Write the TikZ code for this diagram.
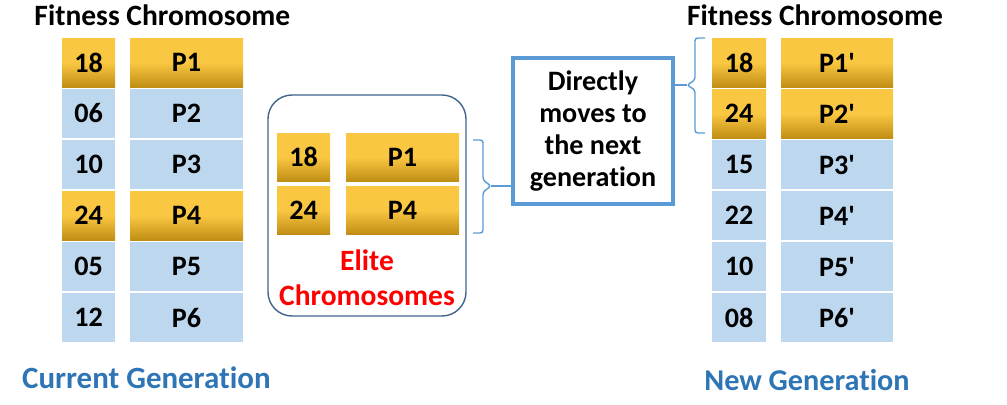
\documentclass[tikz,border=0pt]{standalone}
\usepackage{fontspec}
\setmainfont{Carlito}[Ligatures={TeX,NoCommon}]
\usepackage{tikz}
\usetikzlibrary{backgrounds}
\pgfdeclarelayer{edgelayer}
\pgfdeclarelayer{nodelayer}
\pgfsetlayers{edgelayer,nodelayer,main}
\definecolor{cellblue}{RGB}{189,215,238}
\definecolor{goldtop}{RGB}{250,199,66}
\definecolor{goldbot}{RGB}{192,142,20}
\definecolor{framegray}{RGB}{65,100,140}
\definecolor{frameblue}{RGB}{91,155,213}
\definecolor{genblue}{RGB}{46,117,182}
\tikzstyle{fitcell}=[rectangle, inner sep=0pt, minimum width=1.325cm, minimum height=1.225cm, font=\fontsize{20}{24}\selectfont\bfseries]
\tikzstyle{chromcell}=[fitcell, minimum width=2.825cm]
\tikzstyle{bluecell}=[fill=cellblue]
\tikzstyle{goldcell}=[top color=goldtop, bottom color=goldbot, middle color=goldtop]
\tikzstyle{heading}=[anchor=base, inner sep=0pt, font=\fontsize{21}{25}\selectfont\bfseries]
\tikzstyle{brace}=[draw=frameblue, line width=1pt, rounded corners=2pt]
\newcommand{\pr}{\textquotesingle}

\begin{document}
\begin{tikzpicture}
            \useasboundingbox (0, 0) rectangle (25.175, -10.1);
            \begin{pgfonlayer}{nodelayer}
                % current generation
                \node [style=heading] (head1) at (4.06, -0.625) {Fitness Chromosome};
                \node [style=fitcell, style=goldcell] (f1) at (2.2125, -1.5625) {18};
                \node [style=chromcell, style=goldcell] (c1) at (4.6625, -1.5625) {P1};
                \node [style=fitcell, style=bluecell] (f2) at (2.2125, -2.8375) {06};
                \node [style=chromcell, style=bluecell] (c2) at (4.6625, -2.8375) {P2};
                \node [style=fitcell, style=bluecell] (f3) at (2.2125, -4.1125) {10};
                \node [style=chromcell, style=bluecell] (c3) at (4.6625, -4.1125) {P3};
                \node [style=fitcell, style=goldcell] (f4) at (2.2125, -5.3875) {24};
                \node [style=chromcell, style=goldcell] (c4) at (4.6625, -5.3875) {P4};
                \node [style=fitcell, style=bluecell] (f5) at (2.2125, -6.6625) {05};
                \node [style=chromcell, style=bluecell] (c5) at (4.6625, -6.6625) {P5};
                \node [style=fitcell, style=bluecell] (f6) at (2.2125, -7.9375) {12};
                \node [style=chromcell, style=bluecell] (c6) at (4.6625, -7.9375) {P6};
                \node [style=heading, text=genblue, font=\fontsize{22}{26}\selectfont\bfseries] (cur) at (3.66, -9.7) {Current Generation};

                % elite chromosomes
                \node [draw=framegray, line width=1pt, rounded corners=0.6cm, minimum width=4.95cm, minimum height=5.525cm] (elitebox) at (9.175, -5.1375) {};
                \node [style=fitcell, style=goldcell, minimum height=1.2cm] (ef1) at (7.5875, -3.925) {18};
                \node [style=chromcell, style=goldcell, minimum height=1.2cm] (ec1) at (10.0625, -3.925) {P1};
                \node [style=fitcell, style=goldcell, minimum height=1.2cm] (ef2) at (7.5875, -5.25) {24};
                \node [align=center, text=red, font=\fontsize{21}{25}\selectfont\bfseries] (elite) at (9.175, -6.94) {Elite\\Chromosomes};
                \node [style=chromcell, style=goldcell, minimum height=1.2cm] (ec2) at (10.0625, -5.25) {P4};

                % moves box
                \node [draw=frameblue, line width=2.3pt, minimum width=4cm, minimum height=3.65cm, align=center, font=\fontsize{20}{22.8}\selectfont\bfseries] (movebox) at (14.825, -3.275) {Directly\\moves to\\the next\\generation};

                % new generation
                \node [style=heading] (head2) at (20.375, -0.625) {Fitness Chromosome};
                \node [style=fitcell, style=goldcell, minimum width=1.35cm] (nf1) at (18.475, -1.5625) {18};
                \node [style=chromcell, style=goldcell, minimum width=2.8cm] (nc1) at (20.925, -1.5625) {P1\pr};
                \node [style=fitcell, style=goldcell, minimum width=1.35cm] (nf2) at (18.475, -2.8375) {24};
                \node [style=chromcell, style=goldcell, minimum width=2.8cm] (nc2) at (20.925, -2.8375) {P2\pr};
                \node [style=fitcell, style=bluecell, minimum width=1.35cm] (nf3) at (18.475, -4.1125) {15};
                \node [style=chromcell, style=bluecell, minimum width=2.8cm] (nc3) at (20.925, -4.1125) {P3\pr};
                \node [style=fitcell, style=bluecell, minimum width=1.35cm] (nf4) at (18.475, -5.3875) {22};
                \node [style=chromcell, style=bluecell, minimum width=2.8cm] (nc4) at (20.925, -5.3875) {P4\pr};
                \node [style=fitcell, style=bluecell, minimum width=1.35cm] (nf5) at (18.475, -6.6625) {10};
                \node [style=chromcell, style=bluecell, minimum width=2.8cm] (nc5) at (20.925, -6.6625) {P5\pr};
                \node [style=fitcell, style=bluecell, minimum width=1.35cm] (nf6) at (18.475, -7.9375) {08};
                \node [style=chromcell, style=bluecell, minimum width=2.8cm] (nc6) at (20.925, -7.9375) {P6\pr};
                \node [style=heading, text=genblue, font=\fontsize{21.5}{26}\selectfont\bfseries] (new) at (20.175, -9.75) {New Generation};
            \end{pgfonlayer}
            \begin{pgfonlayer}{edgelayer}
                \coordinate (mtip) at (12.275, -4.65);
                \coordinate (ntip) at (17.175, -2.125);
                \draw [style=brace] (11.825, -3.5) -- (12.075, -3.5) -- (12.075, -4.5) -- (mtip) -- (12.075, -4.8) -- (12.075, -5.825) -- (11.825, -5.825);
                \draw [style=brace] (17.625, -0.95) -- (17.375, -0.95) -- (17.375, -2.0) -- (ntip) -- (17.375, -2.25) -- (17.375, -3.325) -- (17.625, -3.325);
                \draw [draw=frameblue, line width=1pt] (mtip) -- (movebox.west |- mtip);
                \draw [draw=frameblue, line width=1pt] (movebox.east |- ntip) -- (ntip);
            \end{pgfonlayer}
        \end{tikzpicture}
\end{document}
